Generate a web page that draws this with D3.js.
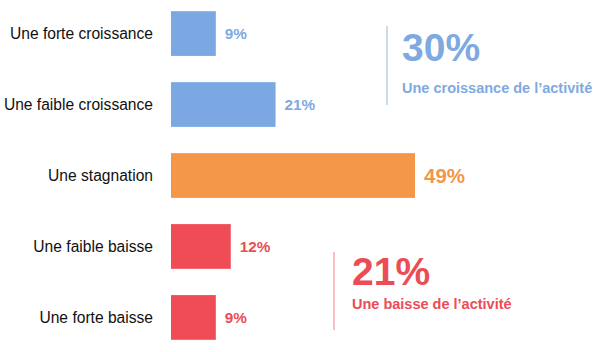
<!DOCTYPE html>
<html><head><meta charset="utf-8">
<script src="https://cdn.jsdelivr.net/npm/d3@7"></script>
<style>body{margin:0;background:#fff}svg{display:block}</style>
</head><body>
<script>
const categories = ["Une forte croissance","Une faible croissance","Une stagnation","Une faible baisse","Une forte baisse"];
const values = [9, 21, 49, 12, 9];
const groups = ["up","up","flat","down","down"];
const summaryValues = ["30%","21%"];
const summaryLabels = ["Une croissance de l’activité","Une baisse de l’activité"];

const colors = {up:"#7BA7E3", flat:"#F49748", down:"#EF4C56"};
const textColors = {up:"#7FA9E1", flat:"#F2964A", down:"#EC4C55"};

const W=600,H=352;
const svg=d3.select("body").append("svg").attr("width",W).attr("height",H);
const font="Liberation Sans, Arial, sans-serif";

const x=d3.scaleLinear().domain([0,49]).range([171,415]);
const y=d3.scaleBand().domain(categories).range([-3,354]).paddingInner(0.37).paddingOuter(0.2);

svg.selectAll("rect.bar").data(categories).join("rect")
  .attr("x",x(0)).attr("y",d=>y(d)).attr("width",(d,i)=>x(values[i])-x(0)).attr("height",y.bandwidth())
  .attr("fill",(d,i)=>colors[groups[i]]);

svg.selectAll("text.cat").data(categories).join("text")
  .attr("x",153).attr("y",d=>y(d)+y.bandwidth()/2).attr("dy","0.35em")
  .attr("text-anchor","end").attr("font-family",font).attr("font-size",15.6).attr("fill","#111")
  .text(d=>d);

svg.selectAll("text.val").data(categories).join("text")
  .attr("x",(d,i)=>x(values[i])+9).attr("y",d=>y(d)+y.bandwidth()/2).attr("dy","0.35em")
  .attr("font-family",font).attr("font-weight","bold")
  .attr("font-size",(d,i)=>groups[i]==="flat"?20.5:15.3)
  .attr("fill",(d,i)=>textColors[groups[i]])
  .text((d,i)=>values[i]+"%");

// summaries
const sums=[{k:"up",lx:387,y1:26,y2:105,tx:402,ny:61,sy:93},{k:"down",lx:334,y1:252,y2:330,tx:352,ny:285,sy:309}];
sums.forEach((s,i)=>{
  svg.append("line").attr("x1",s.lx).attr("x2",s.lx).attr("y1",s.y1).attr("y2",s.y2)
    .attr("stroke",s.k==="up"?"#9DB6D9":"#F08088").attr("stroke-width",1);
  svg.append("text").attr("x",s.tx).attr("y",s.ny).attr("font-family",font).attr("font-weight","bold")
    .attr("font-size",39).attr("fill",textColors[s.k]).text(summaryValues[i]);
  svg.append("text").attr("x",s.tx).attr("y",s.sy).attr("font-family",font).attr("font-weight","bold")
    .attr("font-size",14.5).attr("fill",textColors[s.k]).text(summaryLabels[i]);
});
</script>
</body></html>
